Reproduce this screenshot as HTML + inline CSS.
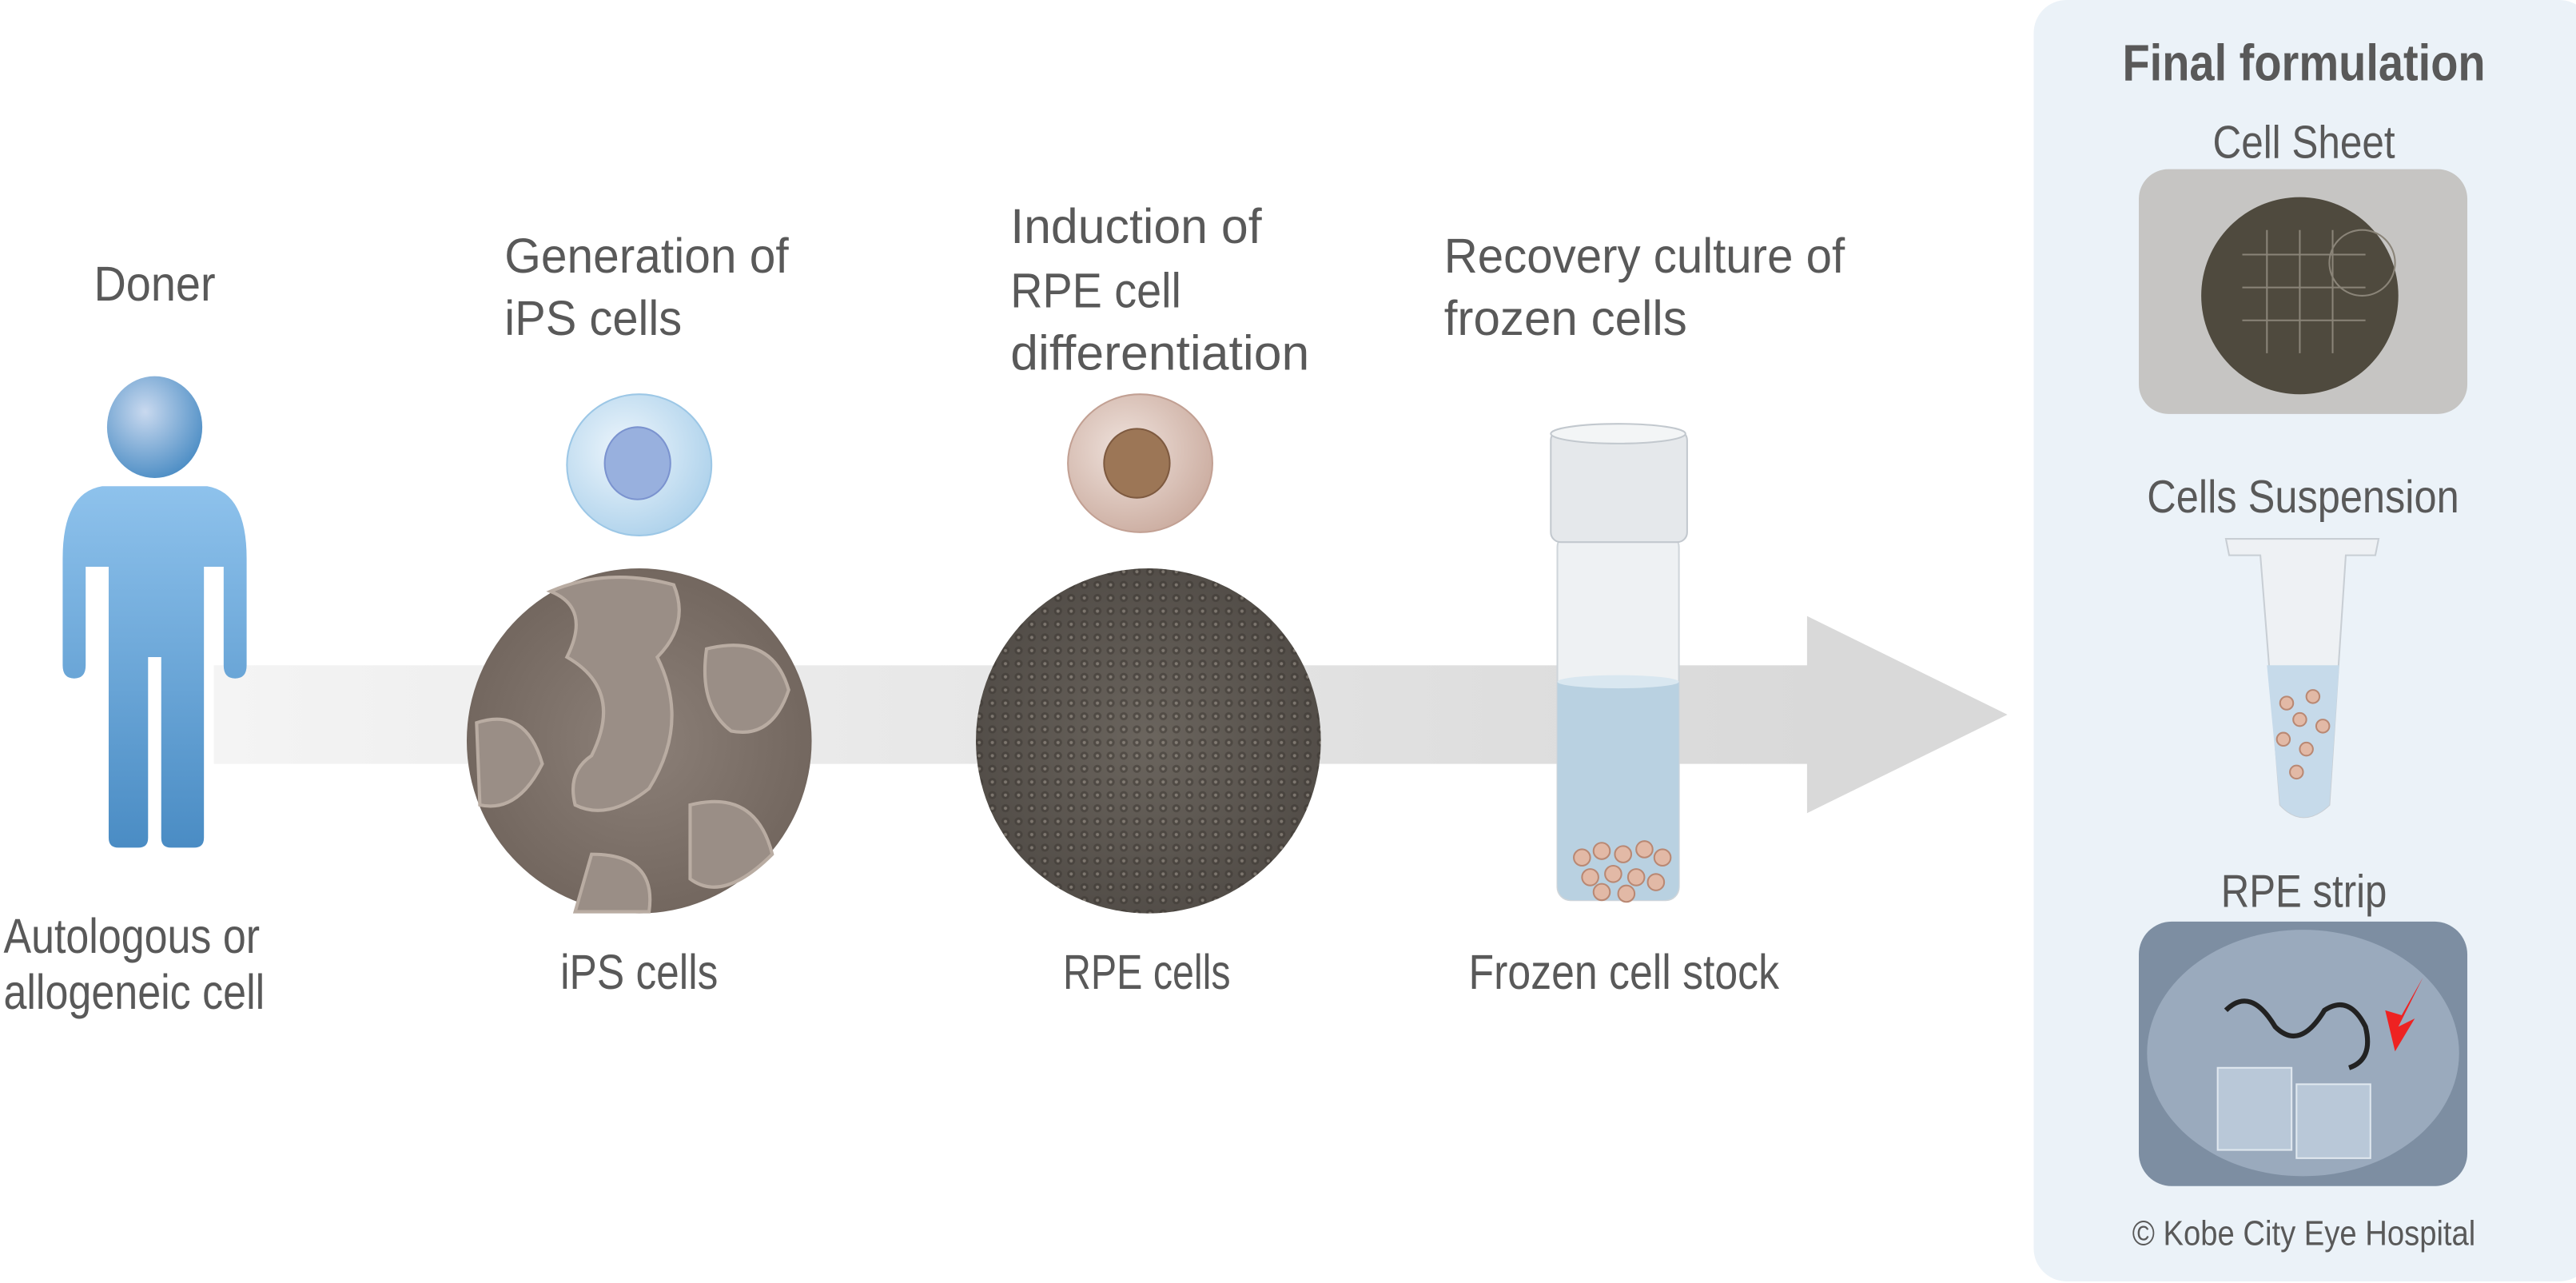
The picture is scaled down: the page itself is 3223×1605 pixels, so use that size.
<!DOCTYPE html>
<html><head><meta charset="utf-8"><style>
html,body{margin:0;padding:0;background:#fff}
svg{display:block}
text{font-family:"Liberation Sans Narrow","Liberation Sans",sans-serif;fill:#595959;font-size:30px}
</style></head><body>
<svg width="3223" height="1605" viewBox="0 0 1568 781" xmlns="http://www.w3.org/2000/svg">
<defs>
<linearGradient id="band" x1="0" x2="1"><stop offset="0" stop-color="#f4f4f4"/><stop offset="1" stop-color="#d9d9d9"/></linearGradient>
<linearGradient id="body" x1="0" y1="0" x2="0" y2="1"><stop offset="0" stop-color="#8ec2ec"/><stop offset="1" stop-color="#4a8cc4"/></linearGradient>
<radialGradient id="head" cx="0.4" cy="0.35" r="0.7"><stop offset="0" stop-color="#c9d9ef"/><stop offset="1" stop-color="#4a8cc4"/></radialGradient>
<radialGradient id="ips" cx="0.4" cy="0.4" r="0.7"><stop offset="0" stop-color="#eef6fc"/><stop offset="1" stop-color="#a9cfea"/></radialGradient>
<radialGradient id="rpe" cx="0.4" cy="0.4" r="0.7"><stop offset="0" stop-color="#efe2dc"/><stop offset="1" stop-color="#c9a99c"/></radialGradient>
<radialGradient id="ipsphoto" cx="0.5" cy="0.5" r="0.6"><stop offset="0" stop-color="#8c8078"/><stop offset="1" stop-color="#6e625a"/></radialGradient>
<radialGradient id="rpephoto" cx="0.5" cy="0.5" r="0.6"><stop offset="0" stop-color="#6b655e"/><stop offset="1" stop-color="#4e4944"/></radialGradient>
<pattern id="dots" width="8" height="8" patternUnits="userSpaceOnUse"><circle cx="4" cy="4" r="2.5" fill="#3a3530" opacity="0.6"/><circle cx="4" cy="4" r="1" fill="#c9c0b5" opacity="0.5"/></pattern>
</defs>
<rect x="130" y="405" width="972" height="60" fill="url(#band)"/>
<polygon points="1100,375 1222,435 1100,495" fill="#d9d9d9"/>
<rect x="1238" y="0" width="340" height="780" rx="20" fill="#ebf2f8"/>
<ellipse cx="94" cy="260" rx="29" ry="31" fill="url(#head)"/>
<path d="M62,296 L126,296 Q150,300 150,340 L150,405 Q150,413 143,413 Q136,413 136,405 L136,345 L132,345 L124,345 L124,510 Q124,516 118,516 L104,516 Q98,516 98,510 L98,400 L90,400 L90,510 Q90,516 84,516 L72,516 Q66,516 66,510 L66,345 L56,345 L52,345 L52,405 Q52,413 45,413 Q38,413 38,405 L38,340 Q38,300 62,296Z" fill="url(#body)"/>
<ellipse cx="389" cy="283" rx="44" ry="43" fill="url(#ips)" stroke="#9cc7e6"/>
<ellipse cx="388" cy="282" rx="20" ry="22" fill="#98b0de" stroke="#7b93cf"/>
<ellipse cx="694" cy="282" rx="44" ry="42" fill="url(#rpe)" stroke="#c2a093"/>
<ellipse cx="692" cy="282" rx="20" ry="21" fill="#9c7656" stroke="#7e5a40"/>
<circle cx="389" cy="451" r="105" fill="url(#ipsphoto)"/>
<g fill="#9a8e86" stroke="#b9aca2" stroke-width="2">
<path d="M335,360 Q360,370 345,400 Q380,420 360,460 Q345,470 350,490 Q370,500 395,480 Q420,440 400,400 Q420,380 410,356 Q370,345 335,360Z"/>
<path d="M430,395 Q470,385 480,420 Q470,450 445,445 Q425,430 430,395Z"/>
<path d="M290,440 Q320,430 330,465 Q315,495 292,490Z"/>
<path d="M420,490 Q460,480 470,520 Q440,550 420,535Z"/>
<path d="M360,520 Q400,520 395,555 L350,555Z"/>
</g>
<circle cx="699" cy="451" r="105" fill="url(#rpephoto)"/>
<circle cx="699" cy="451" r="105" fill="url(#dots)" opacity="0.8"/>
<rect x="948" y="325" width="74" height="223" rx="8" fill="#eef1f3" stroke="#cfd5da"/>
<path d="M948,415 L1022,415 L1022,538 Q1022,548 1012,548 L958,548 Q948,548 948,538Z" fill="#b9d1e1"/>
<ellipse cx="985" cy="415" rx="37" ry="4" fill="#d9e7f0"/>
<rect x="944" y="262" width="83" height="68" rx="6" fill="#e5e8eb" stroke="#c2c8ce"/>
<ellipse cx="985" cy="264" rx="41" ry="6" fill="#f3f5f6" stroke="#c2c8ce"/>
<g fill="#e2b9a6" stroke="#b98873" stroke-width="1">
<circle cx="963" cy="522" r="5"/><circle cx="975" cy="518" r="5"/><circle cx="988" cy="520" r="5"/><circle cx="1001" cy="517" r="5"/><circle cx="1012" cy="522" r="5"/><circle cx="968" cy="534" r="5"/><circle cx="982" cy="532" r="5"/><circle cx="996" cy="534" r="5"/><circle cx="1008" cy="537" r="5"/><circle cx="975" cy="543" r="5"/><circle cx="990" cy="544" r="5"/>
</g>
<rect x="1302" y="103" width="200" height="149" rx="18" fill="#c6c5c3"/>
<circle cx="1400" cy="180" r="60" fill="#4f4a3e"/>
<g stroke="#8a8478" stroke-width="1" fill="none"><path d="M1365,155 H1440 M1365,175 H1440 M1365,195 H1440 M1380,140 V215 M1400,140 V215 M1420,140 V215"/><circle cx="1438" cy="160" r="20"/></g>
<path d="M1355,328 L1448,328 L1446,338 L1428,338 L1418,490 Q1402,505 1388,490 L1376,338 L1357,338Z" fill="#eef1f4" stroke="#c8ced4"/>
<path d="M1380,405 L1424,405 L1418,490 Q1402,505 1388,490Z" fill="#c6daea"/>
<g fill="#e2b9a6" stroke="#b98873"><circle cx="1392" cy="428" r="4"/><circle cx="1408" cy="424" r="4"/><circle cx="1400" cy="438" r="4"/><circle cx="1414" cy="442" r="4"/><circle cx="1390" cy="450" r="4"/><circle cx="1404" cy="456" r="4"/><circle cx="1398" cy="470" r="4"/></g>
<rect x="1302" y="561" width="200" height="161" rx="20" fill="#7d8ea2"/>
<ellipse cx="1402" cy="641" rx="95" ry="75" fill="#9aaabd"/>
<rect x="1350" y="650" width="45" height="50" fill="#b9c8d8" stroke="#e0e8ef"/>
<rect x="1398" y="660" width="45" height="45" fill="#b9c8d8" stroke="#e0e8ef"/>
<path d="M1355,615 Q1370,600 1385,625 Q1400,640 1415,615 Q1430,605 1440,625 Q1445,645 1430,650" stroke="#222" stroke-width="3" fill="none"/>
<polygon points="1475,595 1460,625 1470,620 1458,640 1452,615 1462,618" fill="#e22"/>
<g>
<text x="57" y="183" textLength="74" lengthAdjust="spacingAndGlyphs">Doner</text>
<text x="307" y="166" textLength="173" lengthAdjust="spacingAndGlyphs">Generation of</text>
<text x="307" y="204" textLength="108" lengthAdjust="spacingAndGlyphs">iPS cells</text>
<text x="615" y="148" textLength="153" lengthAdjust="spacingAndGlyphs">Induction of</text>
<text x="615" y="187" textLength="104" lengthAdjust="spacingAndGlyphs">RPE cell</text>
<text x="615" y="225" textLength="182" lengthAdjust="spacingAndGlyphs">differentiation</text>
<text x="879" y="166" textLength="244" lengthAdjust="spacingAndGlyphs">Recovery culture of</text>
<text x="879" y="204" textLength="148" lengthAdjust="spacingAndGlyphs">frozen cells</text>
<text x="2" y="580" textLength="156" lengthAdjust="spacingAndGlyphs">Autologous or</text>
<text x="2" y="614" textLength="159" lengthAdjust="spacingAndGlyphs">allogeneic cell</text>
<text x="341" y="602" textLength="96" lengthAdjust="spacingAndGlyphs">iPS cells</text>
<text x="647" y="602" textLength="102" lengthAdjust="spacingAndGlyphs">RPE cells</text>
<text x="894" y="602" textLength="189" lengthAdjust="spacingAndGlyphs">Frozen cell stock</text>
<text x="1292" y="49" textLength="221" lengthAdjust="spacingAndGlyphs" style="font-weight:bold;font-size:31px">Final formulation</text>
<text x="1347" y="96" textLength="111" lengthAdjust="spacingAndGlyphs" style="font-size:28px">Cell Sheet</text>
<text x="1307" y="312" textLength="190" lengthAdjust="spacingAndGlyphs" style="font-size:28px">Cells Suspension</text>
<text x="1352" y="552" textLength="101" lengthAdjust="spacingAndGlyphs" style="font-size:28px">RPE strip</text>
<text x="1298" y="758" textLength="209" lengthAdjust="spacingAndGlyphs" style="font-size:21px">© Kobe City Eye Hospital</text>
</g>
</svg>
</body></html>
